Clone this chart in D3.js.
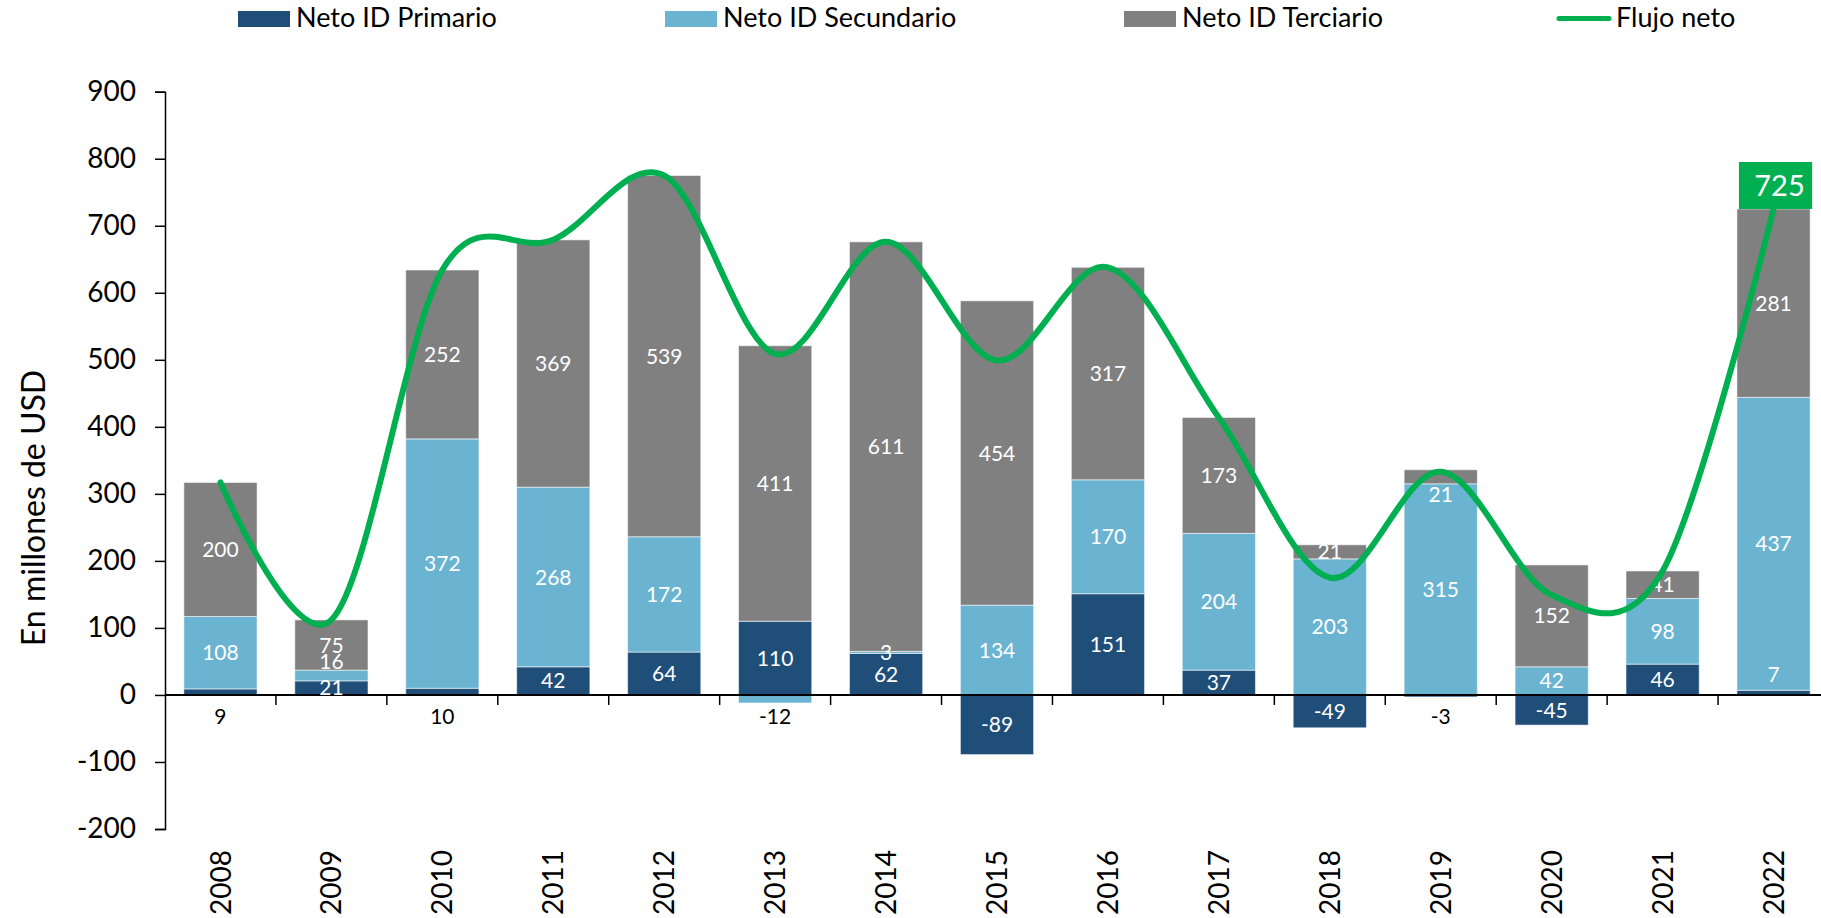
<!DOCTYPE html>
<html>
<head>
<meta charset="utf-8">
<script src="https://cdn.jsdelivr.net/npm/d3@7"></script>
<style>
  body { margin: 0; background: #fff; }
  text { font-family: Lato, "Open Sans", sans-serif; }
</style>
</head>
<body>
<div id="chart"></div>
<script>
var years = ["2008","2009","2010","2011","2012","2013","2014","2015","2016","2017","2018","2019","2020","2021","2022"];
var primario   = [9, 21, 10, 42, 64, 110, 62, -89, 151, 37, -49, -3, -45, 46, 7];
var secundario = [108, 16, 372, 268, 172, -12, 3, 134, 170, 204, 203, 315, 42, 98, 437];
var terciario  = [200, 75, 252, 369, 539, 411, 611, 454, 317, 173, 21, 21, 152, 41, 281];
var flujo      = [317, 112, 634, 679, 775, 509, 676, 499, 638, 414, 175, 333, 149, 185, 725];
var yTicks = [-200, -100, 0, 100, 200, 300, 400, 500, 600, 700, 800, 900];

var keys = ["primario", "secundario", "terciario"];
var names = ["Neto ID Primario", "Neto ID Secundario", "Neto ID Terciario", "Flujo neto"];
var colors = {primario: "#1F4E79", secundario: "#6BB4D1", terciario: "#808080"};
var green = "#00B050";

// labels that were moved by hand in the original
var labelOut = {"2008|primario": 1, "2010|primario": 1, "2013|secundario": 1, "2019|primario": 1};
var labelShift = {"2009|secundario": -14, "2019|terciario": 18, "2022|primario": -18};

var width = 1821, height = 918;

var rows = years.map(function(y, i) {
  return {year: y, primario: primario[i], secundario: secundario[i], terciario: terciario[i]};
});

var svg = d3.select("#chart")
  .append("svg")
    .attr("width", width)
    .attr("height", height);

var x = d3.scaleBand()
  .domain(years)
  .range([165, 1829])
  .paddingInner(0.34)
  .paddingOuter(0.17);

var y = d3.scaleLinear()
  .domain([-200, 900])
  .range([829, 91.7]);

var series = d3.stack().keys(keys).offset(d3.stackOffsetDiverging)(rows);

// bars
svg.append("g")
  .selectAll("g")
  .data(series)
  .enter()
  .append("g")
    .attr("fill", function(d) { return colors[d.key]; })
  .selectAll("rect")
  .data(function(d) { return d; })
  .enter()
  .append("rect")
    .attr("x", function(d) { return x(d.data.year); })
    .attr("y", function(d) { return y(Math.max(d[0], d[1])); })
    .attr("width", x.bandwidth())
    .attr("height", function(d) { return Math.abs(y(d[0]) - y(d[1])); })
    .attr("stroke", "rgba(255,255,255,0.55)")
    .attr("stroke-width", 1);

// y axis
var yAxis = svg.append("g")
  .attr("transform", "translate(165,0)")
  .call(d3.axisLeft(y).tickValues(yTicks).tickSize(10).tickPadding(19).tickFormat(function(d) { return String(d); }));
yAxis.selectAll("text").style("font-size", "28px").attr("fill", "#000");
yAxis.selectAll("line").attr("stroke", "#000").attr("stroke-width", 1.5);
yAxis.select(".domain").attr("stroke", "#000").attr("stroke-width", 1.5);

// x axis at zero
var step = x.step();
svg.append("line")
  .attr("x1", 165).attr("x2", 1829)
  .attr("y1", y(0)).attr("y2", y(0))
  .attr("stroke", "#000").attr("stroke-width", 2);
svg.append("g")
  .selectAll("line")
  .data(years)
  .enter()
  .append("line")
    .attr("x1", function(d) { return x(d) + x.bandwidth() / 2 + step / 2; })
    .attr("x2", function(d) { return x(d) + x.bandwidth() / 2 + step / 2; })
    .attr("y1", y(0)).attr("y2", y(0) + 10)
    .attr("stroke", "#000").attr("stroke-width", 1.5);

svg.append("g")
  .selectAll("text")
  .data(years)
  .enter()
  .append("text")
    .attr("transform", function(d) {
      return "translate(" + (x(d) + x.bandwidth() / 2) + ",850) rotate(-90)";
    })
    .attr("text-anchor", "end")
    .attr("dy", "0.36em")
    .style("font-size", "28px")
    .text(function(d) { return d; });

// y title
svg.append("text")
  .attr("transform", "translate(33,508) rotate(-90)")
  .attr("text-anchor", "middle")
  .attr("dy", "0.36em")
  .style("font-size", "32px")
  .text("En millones de USD");

// segment labels
series.forEach(function(s) {
  svg.append("g")
    .selectAll("text")
    .data(s)
    .enter()
    .append("text")
      .attr("x", function(d) { return x(d.data.year) + x.bandwidth() / 2; })
      .attr("y", function(d) {
        var k = d.data.year + "|" + s.key;
        if (labelOut[k]) return y(0) + 21;
        return y((d[0] + d[1]) / 2) + (labelShift[k] || 0);
      })
      .attr("text-anchor", "middle")
      .attr("dy", "0.36em")
      .attr("fill", function(d) { return labelOut[d.data.year + "|" + s.key] ? "#000" : "#fff"; })
      .style("font-size", "21px")
      .text(function(d) { return d.data[s.key]; });
});

// net flow line
var line = d3.line()
  .x(function(d, i) { return x(years[i]) + x.bandwidth() / 2; })
  .y(function(d) { return y(d); })
  .curve(d3.curveCardinal.tension(0));

svg.append("path")
  .datum(flujo)
  .attr("fill", "none")
  .attr("stroke", green)
  .attr("stroke-width", 6)
  .attr("stroke-linecap", "round")
  .attr("d", line);

// last value box
var last = flujo.length - 1;
svg.append("rect")
  .attr("x", x(years[last]) + 2)
  .attr("y", y(flujo[last]) - 47)
  .attr("width", x.bandwidth())
  .attr("height", 47)
  .attr("fill", green);
svg.append("text")
  .attr("x", x(years[last]) + 2 + x.bandwidth() / 2 + 4)
  .attr("y", y(flujo[last]) - 23.5)
  .attr("text-anchor", "middle")
  .attr("dy", "0.36em")
  .attr("fill", "#fff")
  .style("font-size", "29px")
  .text(flujo[last]);

// legend
var legendX = [238, 665, 1124, 1556];
var legend = svg.append("g");
keys.forEach(function(k, i) {
  legend.append("rect")
    .attr("x", legendX[i]).attr("y", 11)
    .attr("width", 52).attr("height", 16)
    .attr("fill", colors[k]);
  legend.append("text")
    .attr("x", legendX[i] + 58).attr("y", 27)
    .style("font-size", "27px")
    .text(names[i]);
});
legend.append("line")
  .attr("x1", legendX[3] + 3).attr("x2", legendX[3] + 53)
  .attr("y1", 18.5).attr("y2", 18.5)
  .attr("stroke", green).attr("stroke-width", 5)
  .attr("stroke-linecap", "round");
legend.append("text")
  .attr("x", legendX[3] + 60).attr("y", 27)
  .style("font-size", "27px")
  .text(names[3]);
</script>
</body>
</html>
